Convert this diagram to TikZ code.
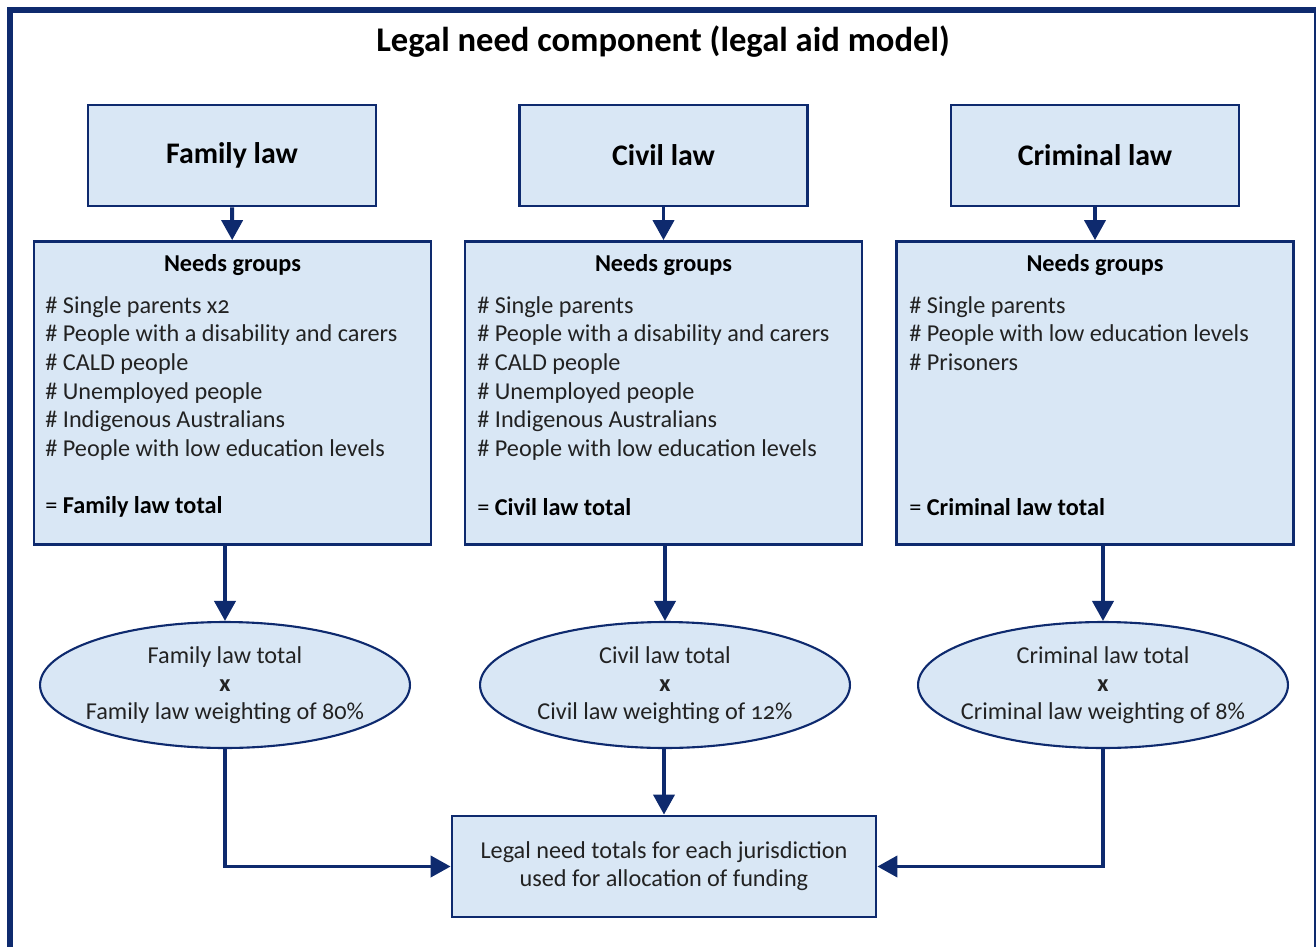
\documentclass[tikz,border=0pt]{standalone}
\usepackage{fontspec}
\setmainfont{Carlito}[Numbers=OldStyle]
\usetikzlibrary{arrows.meta,shapes.geometric}
\definecolor{navy}{HTML}{0E2A6E}
\definecolor{pale}{HTML}{D9E7F5}
\definecolor{ink}{HTML}{222222}
\tikzset{
  frame/.style={draw=navy, line width=2.85pt},
  lawbox/.style={draw=navy, fill=pale, line width=1.6pt, minimum width=5.76cm, minimum height=2.02cm, font=\fontsize{17}{20}\selectfont\bfseries, text=black},
  needbox/.style={draw=navy, fill=pale, line width=1.6pt, minimum width=7.94cm, minimum height=6.06cm},
  needhead/.style={font=\fontsize{13.8}{16}\selectfont\bfseries, text=black, anchor=north, inner sep=0pt},
  needlist/.style={font=\fontsize{13.8}{16.3}\selectfont, text=ink, align=left, anchor=north west, inner sep=0pt},
  needsum/.style={font=\fontsize{13.8}{16}\selectfont, text=black, anchor=west, inner sep=0pt},
  weight/.style={ellipse, draw=navy, fill=pale, line width=1.2pt, minimum width=7.4cm, minimum height=2.52cm, inner sep=0pt},
  weighttext/.style={inner sep=0pt, align=center, font=\fontsize{13.8}{16}\selectfont, text=ink},
  result/.style={draw=navy, fill=pale, line width=1.6pt, minimum width=8.48cm, minimum height=2.02cm, align=center, font=\fontsize{13.8}{16}\selectfont, text=ink},
  arr/.style={draw=navy, line width=2.2pt, -{Triangle[length=0.4cm, width=0.42cm]}}
}

\begin{document}
\begin{tikzpicture}[x=0.02cm, y=-0.02cm]
\useasboundingbox (0,0) rectangle (1316,947);
\draw[frame] (10,10) rectangle (1316.5,980);

\node[font=\fontsize{19.7}{22}\selectfont\bfseries] (title) at (663,42) {Legal need component (legal aid model)};

% top row
\node[lawbox] (family) at (232,155.5) {Family law};
\node[lawbox] (civil) at (663.5,155.5) {Civil law};
\node[lawbox] (criminal) at (1095,155.5) {Criminal law};

% needs groups
\node[needbox] (fneeds) at (232.5,393) {};
\node[needbox] (cneeds) at (663.5,393) {};
\node[needbox] (kneeds) at (1095,393) {};

\node[needhead] (fhead) at (232.5,254) {Needs groups};
\node[needhead] (chead) at (663.5,254) {Needs groups};
\node[needhead] (khead) at (1095,254) {Needs groups};

\node[needlist] (flist) at (45,296) {\# Single parents x2\\\# People with a disability and carers\\\# CALD people\\\# Unemployed people\\\# Indigenous Australians\\\# People with low education levels};
\node[needlist] (clist) at (477,296) {\# Single parents\\\# People with a disability and carers\\\# CALD people\\\# Unemployed people\\\# Indigenous Australians\\\# People with low education levels};
\node[needlist] (klist) at (909,296) {\# Single parents\\\# People with low education levels\\\# Prisoners};

\node[needsum] (fsum) at (45,507) {= \textbf{Family law total}};
\node[needsum] (csum) at (477,507) {= \textbf{Civil law total}};
\node[needsum] (ksum) at (909,507) {= \textbf{Criminal law total}};

% weightings
\node[weight] (fweight) at (225,685) {};
\node[weight] (cweight) at (665,685) {};
\node[weight] (kweight) at (1103,685) {};
\node[weighttext] (ftext) at (fweight) {Family law total\\\textbf{x}\\Family law weighting of 80\%};
\node[weighttext] (ctext) at (cweight) {Civil law total\\\textbf{x}\\Civil law weighting of 12\%};
\node[weighttext] (ktext) at (kweight) {Criminal law total\\\textbf{x}\\Criminal law weighting of 8\%};

\node[result] (total) at (664,866.5) {Legal need totals for each jurisdiction\\used for allocation of funding};

% connectors
\draw[arr] (family) -- (fneeds);
\draw[arr] (civil) -- (cneeds);
\draw[arr] (criminal) -- (kneeds);
\draw[arr] (fneeds.south -| fweight.north) -- (fweight.north);
\draw[arr] (cneeds.south -| cweight.north) -- (cweight.north);
\draw[arr] (kneeds.south -| kweight.north) -- (kweight.north);
\draw[arr] (fweight.south) |- (total.west);
\draw[arr] (cweight.south -| total.north) -- (total.north);
\draw[arr] (kweight.south) |- (total.east);
\end{tikzpicture}
\end{document}
